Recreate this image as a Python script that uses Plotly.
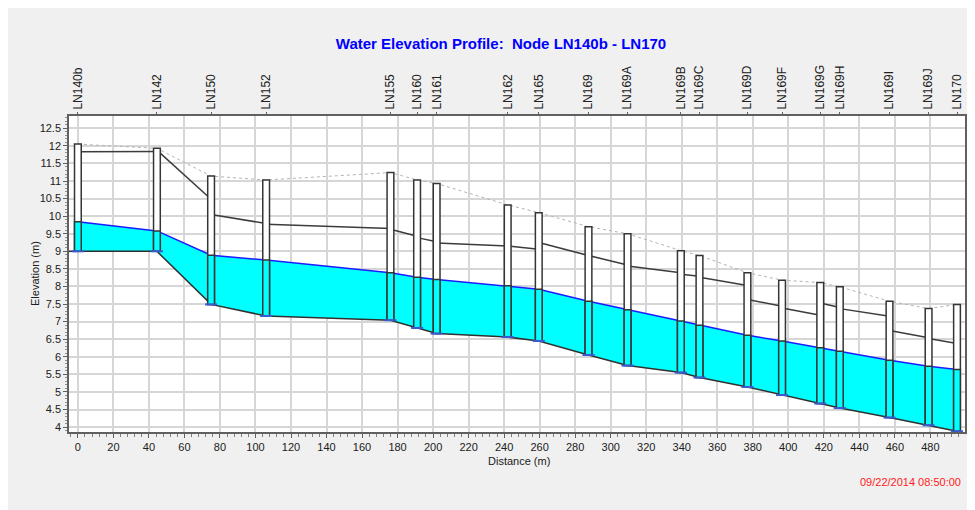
import plotly.graph_objects as go

# ---------------- data ----------------
node_names = ["LN140b", "LN142", "LN150", "LN152", "LN155", "LN160", "LN161", "LN162",
              "LN165", "LN169", "LN169A", "LN169B", "LN169C", "LN169D", "LN169F",
              "LN169G", "LN169H", "LN169I", "LN169J", "LN170"]
node_dist = [0, 44.5, 75, 106, 176, 191, 202, 242, 259.5, 287.5, 309.5, 339.5, 350,
             377, 396.5, 418, 429, 457, 479, 495]
rim_elev = [12.05, 11.93, 11.14, 11.03, 11.24, 11.03, 10.93, 10.32, 10.10, 9.70, 9.50,
            9.02, 8.88, 8.39, 8.18, 8.11, 7.99, 7.58, 7.37, 7.49]
invert_elev = [9.00, 9.00, 7.49, 7.16, 7.04, 6.82, 6.66, 6.56, 6.45, 6.05, 5.75, 5.55,
               5.41, 5.14, 4.91, 4.67, 4.54, 4.27, 4.05, 3.88]
water_elev = [9.84, 9.58, 8.89, 8.75, 8.39, 8.26, 8.20, 8.02, 7.92, 7.58, 7.34, 7.02,
              6.90, 6.61, 6.45, 6.26, 6.16, 5.90, 5.73, 5.64]
# pipe crown elevation at upstream / downstream end of each link
crown_up = [11.83, 11.88, 10.05, 9.77, 9.63, 9.39, 9.24, 9.15, 9.25, 8.88, 8.58, 8.35,
            8.26, 7.63, 7.39, 7.53, 7.37, 6.75, 6.52]
crown_dn = [11.84, 10.48, 9.79, 9.65, 9.43, 9.27, 9.15, 9.06, 8.88, 8.61, 8.39, 8.29,
            8.03, 7.44, 7.18, 7.40, 7.15, 6.54, 6.38]

title_text = "Water Elevation Profile:&nbsp; Node LN140b - LN170"
x_title = "Distance (m)"
y_title = "Elevation (m)"
time_stamp = "09/22/2014 08:50:00"

# ---------------- styles ----------------
FONT = "Liberation Sans, Arial, sans-serif"
MH_HALF = 1.9      # half width of manhole box (m)
MARK_HALF = 3.4    # half width of invert marker (m)
X_RANGE = [-5, 499.5]
Y_RANGE = [3.86, 12.85]
OFF = 8                      # page margin around the figure
W, H = 975 - OFF, 510 - OFF  # figure size
PL, PR, PT, PB = 69 - OFF, 965 - OFF, 116 - OFF, 432 - OFF   # plot area (figure px)
PW, PH = PR - PL, PB - PT

fig = go.Figure()

# invert line (base of the water fill)
fig.add_trace(go.Scatter(x=node_dist, y=invert_elev, mode="lines",
                         line=dict(color="#303030", width=1.5),
                         hoverinfo="skip", showlegend=False))
# water surface with cyan fill down to invert
fig.add_trace(go.Scatter(x=node_dist, y=water_elev, mode="lines", fill="tonexty",
                         fillcolor="#00ffff",
                         line=dict(color="#1c1cff", width=1.5),
                         hoverinfo="skip", showlegend=False))
# inlet invert continuing to the left edge
fig.add_trace(go.Scatter(x=[X_RANGE[0], node_dist[0]], y=[invert_elev[0], invert_elev[0]],
                         mode="lines", line=dict(color="#303030", width=1.5),
                         hoverinfo="skip", showlegend=False))

# pipe crowns (per link)
cx, cy = [], []
for i in range(len(crown_up)):
    cx += [node_dist[i], node_dist[i + 1], None]
    cy += [crown_up[i], crown_dn[i], None]
fig.add_trace(go.Scatter(x=cx, y=cy, mode="lines",
                         line=dict(color="#3c3c3c", width=1.5),
                         hoverinfo="skip", showlegend=False))

# ground / rim line
fig.add_trace(go.Scatter(x=node_dist, y=rim_elev, mode="lines",
                         line=dict(color="#b4b4b4", width=1, dash="dot"),
                         hoverinfo="skip", showlegend=False))

# invisible trace to activate the top (node) axis
fig.add_trace(go.Scatter(x=node_dist, y=rim_elev, mode="markers", xaxis="x2",
                         marker=dict(opacity=0), hoverinfo="skip", showlegend=False))

# manholes
shapes = []
for d, r, inv, w in zip(node_dist, rim_elev, invert_elev, water_elev):
    shapes.append(dict(type="rect", xref="x", yref="y", x0=d - MH_HALF, x1=d + MH_HALF,
                       y0=inv, y1=r, fillcolor="white",
                       line=dict(color="#353535", width=1.5), layer="above"))
    shapes.append(dict(type="rect", xref="x", yref="y", x0=d - MH_HALF, x1=d + MH_HALF,
                       y0=inv, y1=w, fillcolor="#00ffff",
                       line=dict(color="#353535", width=1.5), layer="above"))
    shapes.append(dict(type="line", xref="x", yref="y", x0=d - MARK_HALF, x1=d + MARK_HALF,
                       y0=inv, y1=inv, line=dict(color="#3a5ad0", width=2), layer="above"))

annotations = [
    dict(text=y_title, xref="paper", yref="paper", x=(35 - OFF - PL) / PW, y=0.5,
         textangle=-90, showarrow=False, font=dict(family=FONT, size=11, color="#202020"),
         xanchor="center", yanchor="middle"),
    dict(text=x_title, xref="paper", yref="paper", x=(519 - OFF - PL) / PW,
         y=(PB - (461 - OFF)) / PH, showarrow=False,
         font=dict(family=FONT, size=11, color="#202020"),
         xanchor="center", yanchor="middle"),
    dict(text=time_stamp, xref="paper", yref="paper", x=(963 - OFF - PL) / PW,
         y=(PB - (482 - OFF)) / PH, showarrow=False,
         font=dict(family=FONT, size=11, color="#ff1c1c"),
         xanchor="right", yanchor="middle"),
]

fig.update_layout(
    width=W, height=H,
    margin=dict(l=PL, r=W - PR, t=PT, b=H - PB, pad=0, autoexpand=False),
    paper_bgcolor="#f0f0f0", plot_bgcolor="white",
    font=dict(family=FONT, size=11, color="#202020"),
    title=dict(text="<b>" + title_text + "</b>", x=(501 - OFF) / W, xanchor="center",
               y=1 - (44 - OFF) / H, yanchor="middle", yref="container", automargin=False,
               font=dict(family=FONT, size=15, color="#0000ff")),
    xaxis=dict(range=X_RANGE, dtick=20, tick0=0, showgrid=True, gridcolor="#d6d6d6",
               gridwidth=1.5, zeroline=False, showline=True, linecolor="#606060",
               linewidth=1.5, mirror=True, ticks="outside", ticklen=4, tickcolor="#606060",
               automargin=False,
               minor=dict(dtick=4, ticks="outside", ticklen=3, tickcolor="#808080",
                          showgrid=False),
               tickfont=dict(family=FONT, size=11, color="#202020")),
    xaxis2=dict(range=X_RANGE, overlaying="x", side="top", tickmode="array",
                tickvals=node_dist, ticktext=node_names, tickangle=-90, showgrid=False,
                zeroline=False, showline=False, ticks="outside", ticklen=3,
                automargin=False,
                tickcolor="#606060", tickfont=dict(family=FONT, size=12, color="#202020")),
    yaxis=dict(range=Y_RANGE, dtick=0.5, tick0=4, showgrid=True, gridcolor="#d6d6d6",
               gridwidth=1.5, zeroline=False, showline=True, linecolor="#606060",
               linewidth=1.5, mirror=True, ticks="outside", ticklen=4, tickcolor="#606060",
               automargin=False,
               minor=dict(dtick=0.1, ticks="outside", ticklen=2, tickcolor="#909090",
                          showgrid=False),
               tickfont=dict(family=FONT, size=11, color="#202020")),
    annotations=annotations,
    shapes=shapes,
    showlegend=False,
)

fig.write_html("out.html")
